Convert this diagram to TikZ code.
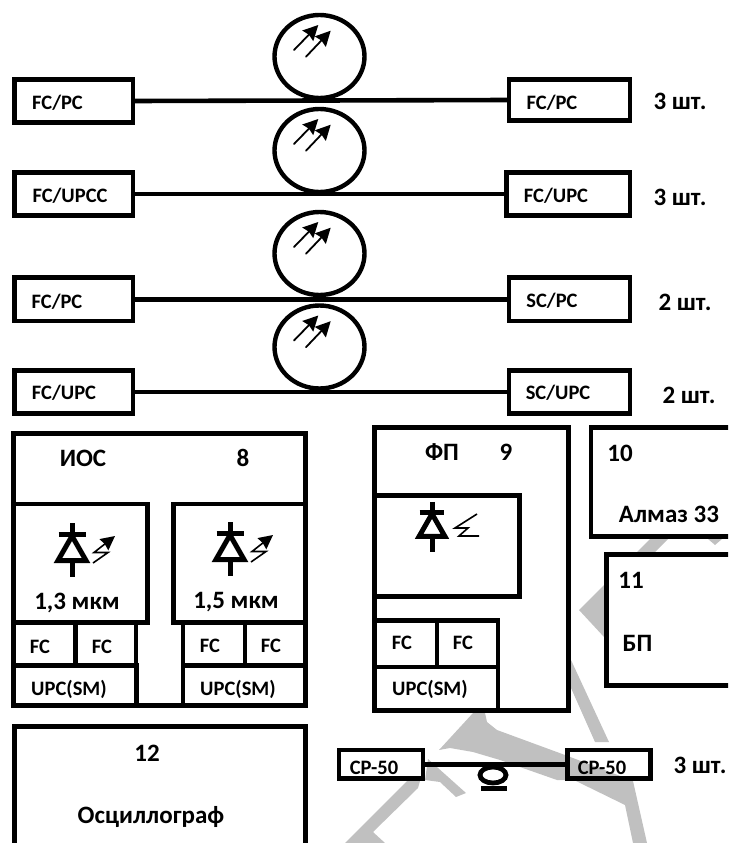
\documentclass[tikz,border=0pt]{standalone}
\usepackage{fontspec}
\setmainfont{Carlito}
\usetikzlibrary{arrows.meta, shapes.geometric}
\definecolor{wmark}{HTML}{C0C0C0}
\tikzset{
    box/.style={draw, rectangle, line width=4.8pt, inner sep=0pt, outer sep=0pt},
    lbl/.style={inner sep=0pt, text height=13.2pt, text depth=0pt, font=\fontsize{20.5}{24}\selectfont\bfseries},
    biglbl/.style={inner sep=0pt, text height=16.1pt, text depth=0pt, font=\fontsize{25}{29}\selectfont\bfseries},
    fiber/.style={line width=4.6pt},
    spool/.style={draw, ellipse, line width=4.4pt, minimum width=90pt, minimum height=83pt, inner sep=0pt, outer sep=0pt},
    beam/.style={line width=1.8pt, line cap=round, -{Stealth[inset=1.5pt,length=15pt,width=15pt]}},
    diode/.pic={
        \draw[line width=5pt] (0,-11) -- (0,0);
        \draw[line width=5pt] (-13.5,0) -- (13.5,0);
        \draw[line width=5pt, line join=miter] (0,2) -- (-14,26.5) -- (14,26.5) -- cycle;
        \draw[line width=5pt] (0,26.5) -- (0,43);
    },
    emitter/.pic={
        \draw[line width=1.6pt, -{Stealth[inset=1pt,length=14pt,width=14pt]}] (21,29) -- (36,18.5) -- (22,18.5) -- (43,2);
    }
}
\begin{document}
\begin{tikzpicture}[x=1pt, y=-1pt]
    \useasboundingbox (0,0) rectangle (728,843);
    \clip (0,0) rectangle (728,843);

    % watermark
    \fill[wmark] (473,713) -- (485,713) -- (487,722) -- (497,730) -- (565,755) -- (623,777) -- (623,780) -- (557,780) -- (500,760) -- (473,752) -- (450,748) -- (439,750) -- cycle;
    \fill[wmark] (345,843) -- (407,781) -- (420,781) -- (418,788) -- (373,832) -- (385,843) -- cycle;
    \fill[wmark] (428,759) -- (466,793) -- (456,797) -- (440,782) -- (425,780) -- cycle;
    \fill[wmark] (571,660) -- (609,742) -- (595,742) -- (571,688) -- cycle;
    \fill[wmark] (576,781) -- (633,781) -- (647,843) -- (633,843) -- (625,805) -- cycle;
    \fill[wmark] (604,585) -- (579,610) -- (604,637) -- cycle;
    \fill[wmark] (650,539) -- (668,539) -- (655,552) -- (637,552) -- cycle;
    \fill[wmark] (708,539) -- (722,539) -- (715,545) -- cycle;

    % fibre lines
    \node[box, minimum width=118.5pt, minimum height=42.5pt] (lineAl) at (73.75,101) {};
    \node[box, minimum width=121pt, minimum height=40.5pt] (lineAr) at (569.5,100) {};
    \node[box, minimum width=118.5pt, minimum height=43pt] (lineBl) at (73.75,194) {};
    \node[box, minimum width=123.5pt, minimum height=43pt] (lineBr) at (568.25,194) {};
    \node[box, minimum width=118.5pt, minimum height=43.5pt] (lineCl) at (73.75,299.25) {};
    \node[box, minimum width=121pt, minimum height=43.5pt] (lineCr) at (569.5,299.25) {};
    \node[box, minimum width=118.5pt, minimum height=42.5pt] (lineDl) at (73.75,392) {};
    \node[box, minimum width=121pt, minimum height=42.5pt] (lineDr) at (569.5,392) {};

    \draw[fiber] (lineAl.east) -- (lineAr.west);
    \draw[fiber] (lineBl.east) -- (lineBr.west);
    \draw[fiber] (lineCl.east) -- (lineCr.west);
    \draw[fiber] (lineDl.east) -- (lineDr.west);

    \foreach \name/\cy in {A/56.5, B/150.5, C/253.5, D/347} {
        \node[spool] (spool\name) at (319.5,\cy) {};
        \draw[beam] (294,\cy-6.5) -- (318.3,\cy-31.5);
        \draw[beam] (306,\cy+0.2) -- (330.7,\cy-25.8);
    }

    \node[lbl] (tAl) at (57.5,103) {FC/PC};
    \node[lbl] (tAr) at (552,103) {FC/PC};
    \node[lbl] (tBl) at (70,196) {FC/UPCC};
    \node[lbl] (tBr) at (556,196) {FC/UPC};
    \node[lbl] (tCl) at (57,301.5) {FC/PC};
    \node[lbl] (tCr) at (552,300.5) {SC/PC};
    \node[lbl] (tDl) at (64,393) {FC/UPC};
    \node[lbl] (tDr) at (558,393) {SC/UPC};
    \node[biglbl] (nA) at (680,101) {3 шт.};
    \node[biglbl] (nB) at (680,197) {3 шт.};
    \node[biglbl] (nC) at (685,302) {2 шт.};
    \node[biglbl] (nD) at (689,395) {2 шт.};

    % source block
    \node[box, minimum width=292pt, minimum height=272pt] (ios) at (159.5,569.5) {};
    \node[box, minimum width=134pt, minimum height=118.5pt] (srcA) at (80.5,563.25) {};
    \node[box, minimum width=132pt, minimum height=118.5pt] (srcB) at (239.5,563.25) {};
    \node[box, minimum width=62pt, minimum height=43pt] (srcAa) at (44.5,644) {};
    \node[box, minimum width=61pt, minimum height=43pt] (srcAb) at (105.5,644) {};
    \node[box, minimum width=123pt, minimum height=40.5pt] (srcAc) at (75,685.25) {};
    \node[box, minimum width=62pt, minimum height=43pt] (srcBa) at (214,644) {};
    \node[box, minimum width=60.5pt, minimum height=43pt] (srcBb) at (275.25,644) {};
    \node[box, minimum width=122.5pt, minimum height=40.5pt] (srcBc) at (244.25,685.25) {};
    \node[biglbl] (tIos) at (83,458) {ИОС};
    \node[biglbl] (tEight) at (243,458) {8};
    \node[biglbl] (tWlA) at (77,601) {1,3 мкм};
    \node[biglbl] (tWlB) at (236,600) {1,5 мкм};
    \node[lbl] (tAa) at (40,647) {FC};
    \node[lbl] (tAb) at (102,647) {FC};
    \node[lbl] (tAc) at (69,689) {UPC(SM)};
    \node[lbl] (tBa) at (210,646) {FC};
    \node[lbl] (tBb) at (271,646) {FC};
    \node[lbl] (tBc) at (238,689) {UPC(SM)};
    \pic at (72,534) {diode};
    \pic at (72,534) {emitter};
    \pic at (230,533) {diode};
    \pic at (230,533) {emitter};

    % receiver block
    \node[box, minimum width=194pt, minimum height=283pt] (rcv) at (471.5,569) {};
    \node[box, minimum width=145pt, minimum height=101pt] (rcvA) at (447,546) {};
    \node[box, minimum width=62.5pt, minimum height=46.5pt] (rcvAa) at (405.75,643.75) {};
    \node[box, minimum width=61pt, minimum height=46.5pt] (rcvAb) at (467.5,643.75) {};
    \node[box, minimum width=123.5pt, minimum height=43.5pt] (rcvAc) at (436.25,688.75) {};
    \node[biglbl] (tFp) at (442,452) {ФП};
    \node[biglbl] (tNine) at (506,452) {9};
    \node[lbl] (tRa) at (402,643) {FC};
    \node[lbl] (tRb) at (463,643) {FC};
    \node[lbl] (tRc) at (430,689) {UPC(SM)};
    \pic[scale=0.92] at (432,512) {diode};
    \draw[line width=1.6pt] (477,514) -- (455,528) -- (468,528) -- (459,536) -- (479,536);

    % meter and supply
    \node[box, minimum width=144pt, minimum height=109pt] (meter) at (663,482) {};
    \node[box, minimum width=128.5pt, minimum height=131pt] (supply) at (670.75,620) {};
    \node[biglbl] (tTen) at (620,453) {10};
    \node[biglbl] (tMeter) at (669,514) {Алмаз 33};
    \node[biglbl] (tEleven) at (631,580) {11};
    \node[biglbl] (tSupply) at (637.5,643) {БП};

    % oscilloscope
    \node[box, minimum width=291pt, minimum height=123.5pt] (scope) at (160,788.25) {};
    \node[biglbl] (tTwelve) at (147,753) {12};
    \node[biglbl] (tScope) at (151,815) {Осциллограф};

    % coax line
    \node[box, minimum width=84pt, minimum height=28.5pt] (coaxl) at (381,764.25) {};
    \node[box, minimum width=83pt, minimum height=28.5pt] (coaxr) at (609,764.25) {};
    \draw[fiber] (coaxl.east) -- (coaxr.west);
    \node[draw, ellipse, line width=4.8pt, minimum width=26pt, minimum height=16pt, inner sep=0pt] (coil) at (493,775) {};
    \fill (481,786) rectangle (507,791);
    \node[lbl] (tCoaxl) at (374,768) {CP-50};
    \node[lbl] (tCoaxr) at (602,768) {CP-50};
    \node[biglbl] (nE) at (700,765) {3 шт.};
\end{tikzpicture}
\end{document}
